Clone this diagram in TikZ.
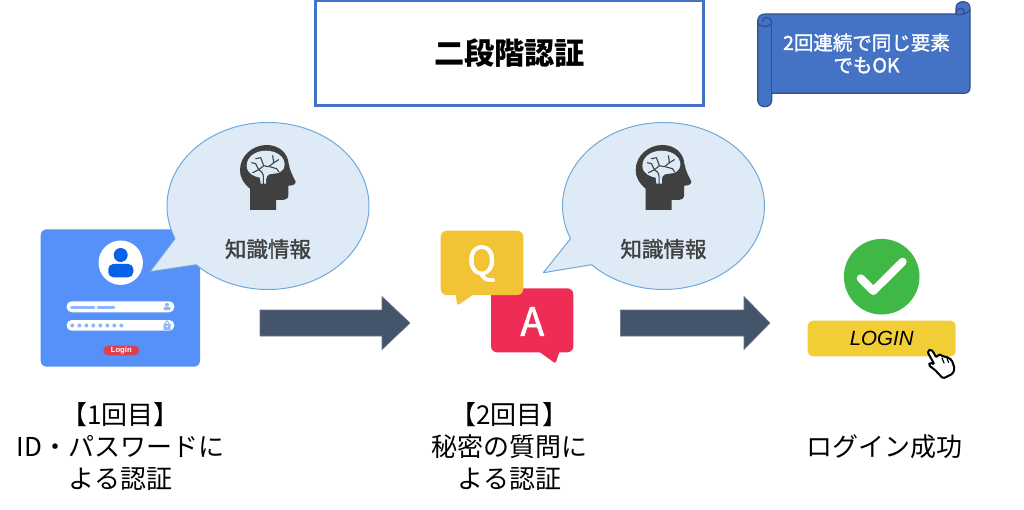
\documentclass[tikz,border=0pt]{standalone}
\usepackage{fontspec}
\setmainfont{Noto Sans CJK JP}
\newfontfamily\latinsans{Liberation Sans}
\newfontfamily\mediumjp[FakeBold=1.6]{Noto Sans CJK JP}
\definecolor{bubblefill}{HTML}{DEEAF6}
\definecolor{bubbleline}{HTML}{6FA8DC}
\definecolor{darkhead}{HTML}{404040}
\definecolor{navyarrow}{HTML}{44546A}
\definecolor{office}{HTML}{4472C4}
\definecolor{officeedge}{HTML}{2F528F}
\definecolor{cardblue}{HTML}{5591F9}
\definecolor{personblue}{HTML}{0A60E6}
\definecolor{pale}{HTML}{8DB6FB}
\definecolor{pillred}{RGB}{220,63,82}
\definecolor{answerred}{RGB}{238,44,85}
\definecolor{questionyellow}{RGB}{242,195,53}
\definecolor{okgreen}{RGB}{63,184,69}
\definecolor{buttonyellow}{RGB}{241,206,54}
\tikzset{
  bubble/.style={fill=bubblefill,draw=bubbleline,line width=1pt,line join=round},
  flow/.style={fill=navyarrow,draw=navyarrow!80!white,line width=.6pt},
  caption/.style={font=\fontsize{26}{32}\selectfont,align=center,text=black,inner sep=0pt},
  knowledge/.style={font=\mediumjp\fontsize{21.5}{26}\selectfont,text=darkhead,inner sep=0pt},
  field/.style={fill=white,rounded corners=5pt},
  vein/.style={draw=darkhead,line width=1.1pt,line cap=round,line join=round},
  scrolledge/.style={draw=officeedge,line width=1.2pt,line join=round},
}
\newcommand{\brainicon}[2]{%
\begin{scope}[shift={(#1,#2)}]
  \fill[darkhead] (-16.7,33.3) -- (-16.7,12) .. controls (-23,7) and (-27,0) .. (-26.7,-6.7)
    .. controls (-26.7,-21) and (-14,-31.7) .. (0,-31.7)
    .. controls (12,-31.7) and (21,-24) .. (22,-13)
    .. controls (23,-6) and (27,1) .. (29,5) .. controls (29,7.5) and (26,9) .. (21.7,9)
    -- (21.7,18) .. controls (21.7,21.5) and (19.5,23.3) .. (16.7,23.3)
    -- (9.3,23.3) -- (9.3,33.3) -- cycle;
  \fill[bubblefill] (-6,7) -- (-6.7,1) .. controls (-12,0) and (-20,-3) .. (-20,-11)
    .. controls (-20,-20) and (-11,-26) .. (-1,-26)
    .. controls (10,-26) and (18,-20) .. (18,-12)
    .. controls (18,-6) and (12,-3) .. (7,-3) .. controls (3,-3) and (0,-2) .. (-0.5,2)
    -- (-0.5,7) -- cycle;
  \draw[vein] (-3.3,7) -- (-3.3,0) .. controls (-3.5,-4) and (-6,-6) .. (-8,-7);
  \draw[vein] (-14,-4) -- (-8,-7) -- (-11,-13) -- (-15,-14);
  \draw[vein] (-8,-7) -- (-3,-11) -- (2,-10) -- (7,-14) -- (6,-21);
  \draw[vein] (-3,-11) -- (-6,-19) -- (-11,-18);
  \draw[vein] (7,-14) -- (12,-17);
  \draw[vein] (3,-10) -- (10,-8) -- (12,-5);
\end{scope}}
\begin{document}
\begin{tikzpicture}[x=1pt,y=-1pt]
\useasboundingbox (0,0) rectangle (1024,510);
% title
\node[draw=office,line width=3pt,minimum width=388pt,minimum height=105pt,inner sep=0pt,
  font=\fontsize{30.2}{36}\selectfont\bfseries] (title) at (509.5,53.5) {二段階認証};
% scroll
\path[fill=office,scrolledge]
  (771.7,93.3) -- (964,93.3) .. controls (968,93.3) and (970,91) .. (970,87.5)
  -- (970,8) .. controls (970,4) and (967,1.7) .. (963,1.7) .. controls (959,1.7) and (956,4) .. (956,8)
  -- (956,14) -- (765,14) .. controls (760.5,14) and (757.7,17) .. (757.7,21)
  -- (757.7,100) .. controls (757.7,104) and (760.5,106.7) .. (764.7,106.7)
  .. controls (769,106.7) and (771.7,104) .. (771.7,100) -- cycle;
\draw[scrolledge] (771.7,25.5) -- (771.7,93.3);
\draw[scrolledge] (757.7,21) .. controls (757.7,25) and (761,26.5) .. (764,26.5)
  .. controls (768,26.5) and (771.7,25) .. (771.7,22) .. controls (771.7,19) and (769,17.5) .. (766.5,17.5)
  .. controls (764,17.5) and (762.5,19.5) .. (763,22);
\draw[scrolledge] (956,14) .. controls (956,10) and (959,8) .. (962,8.5)
  .. controls (964.5,9) and (965,12) .. (963,14) (956,14.5) .. controls (960,15) and (967,14.5) .. (970,10);
\node[font=\mediumjp\fontsize{19.5}{22.5}\selectfont,text=white,align=center,inner sep=0pt]
  (note) at (866.5,53.5) {2回連続で同じ要素\\でもOK};
% login card
\fill[cardblue,rounded corners=6pt] (40.7,229.3) rectangle (200,366.7);
\fill[white] (120.7,262.7) circle (22.2);
\fill[personblue] (120.7,255) circle (7);
\fill[personblue,rounded corners=5pt] (108.3,264) rectangle (133.3,277.3);
\fill[field] (66.7,301.3) rectangle (174.3,312.3);
\fill[field] (66.7,320) rectangle (174.3,330.7);
\draw[pale,line width=3pt,line cap=round] (71.5,307) -- (94,307) (98,307) -- (114,307);
\foreach \dx in {0,...,7} \fill[pale] ({72.3+7*\dx},325.5) circle (2);
\fill[pale] (167,304.8) circle (2);
\fill[pale,rounded corners=1pt] (163.5,307) rectangle (170.5,310);
\fill[pale,rounded corners=.6pt] (163.5,323.5) rectangle (170.5,330);
\draw[pale,line width=1pt] (165.3,323.5) -- (165.3,322.5) .. controls (165.3,320.2) and (168.7,320.2) .. (168.7,322.5) -- (168.7,323.5);
\fill[white] (167,326.5) circle (1);
\fill[pillred,rounded corners=4.8pt] (103.3,345.7) rectangle (139.3,355.3);
\node[text=white,inner sep=0pt,font=\latinsans\fontsize{7.6}{8}\selectfont\bfseries] (loginsmall) at (121.3,350.5) {Login};
% bubble 1
\draw[bubble] plot[smooth,domain=157:495.3,samples=90] ({268+101*cos(\x)},{206+83.5*sin(\x)}) -- (150,271.7) -- cycle;
\brainicon{266.7}{176.7}
\node[knowledge] (k1) at (268,249) {知識情報};
% Q & A
\fill[answerred,rounded corners=6pt] (491,288.3) rectangle (573.3,352.3);
\fill[answerred,rounded corners=1.5pt] (536.7,350) -- (555.5,363.5) -- (560,350) -- cycle;
\fill[questionyellow,rounded corners=6pt] (440.7,230.7) rectangle (523.3,295);
\fill[questionyellow,rounded corners=1.5pt] (455,292) -- (457.5,305.5) -- (477,292) -- cycle;
\node[text=white,inner sep=0pt,font=\mediumjp\fontsize{39}{42}\selectfont] (q) at (481.7,263.5) {Q};
\node[text=white,inner sep=0pt,font=\mediumjp\fontsize{39}{42}\selectfont] (a) at (532.3,321.5) {A};
% bubble 2
\draw[bubble] plot[smooth,domain=157:495.3,samples=90] ({663.5+101*cos(\x)},{206+83.5*sin(\x)}) -- (543.3,272.7) -- cycle;
\brainicon{662.4}{176.7}
\node[knowledge] (k2) at (663.5,249) {知識情報};
% arrows
\path[flow] (260,310) -- (382,310) -- (382,296.5) -- (410,323) -- (382,349.5) -- (382,336) -- (260,336) -- cycle;
\path[flow] (620.3,310) -- (744,310) -- (744,296.5) -- (770,323) -- (744,349.5) -- (744,336) -- (620.3,336) -- cycle;
% success
\fill[okgreen] (881.7,276.7) circle (37.8);
\draw[white,line width=8pt,line cap=round,line join=round] (860.7,278.3) -- (873.3,291) -- (902.7,261.7);
\fill[buttonyellow,rounded corners=5pt] (807.7,320.7) rectangle (955.7,356.3);
\node[inner sep=0pt,font=\latinsans\itshape\fontsize{20.5}{24}\selectfont] (login) at (881.7,338.3) {LOGIN};
\path[fill=white,draw=black,line width=2pt,line join=round,rounded corners=1.5pt]
  (928.5,354) -- (927.5,351) -- (931,349.5) -- (933,351.5) -- (936.5,358)
  -- (938,354.5) -- (942,355) -- (943,357) -- (947,356.5) -- (949.5,359) -- (951.5,359.5)
  -- (954.5,368) -- (953,373.5) -- (943,378.5) -- (935,370) -- (928.5,365) -- (930,362.5) -- (934.5,364.5) -- cycle;
\draw[black,line width=1.2pt,line cap=round] (942,358) -- (944,363) (947,358) -- (948.5,362.5);
% captions
\node[caption] (c1) at (120.5,447) {【1回目】\\ID・パスワードに\\よる認証};
\node[caption] (c2) at (509.5,447) {【2回目】\\秘密の質問に\\よる認証};
\node[caption] (c3) at (884.5,447) {ログイン成功};
\end{tikzpicture}
\end{document}
